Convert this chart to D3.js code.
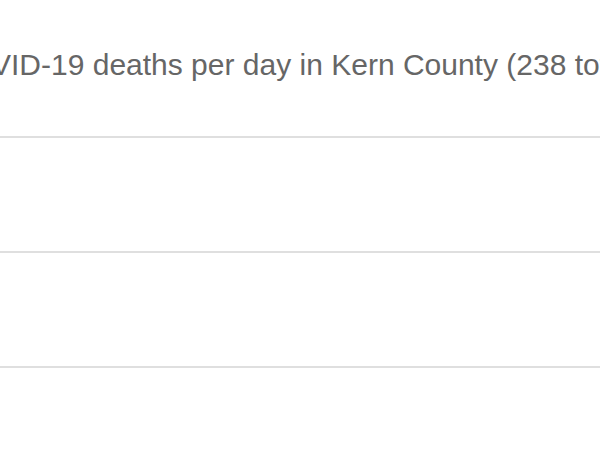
<!DOCTYPE html>
<html>
<head>
<meta charset="utf-8">
<script src="https://cdn.jsdelivr.net/npm/d3@7"></script>
<style>
  html, body { margin: 0; padding: 0; background: #fff; overflow: hidden; }
</style>
</head>
<body>
<script>
const title = "COVID-19 deaths per day in Kern County (238 total)";
const yTicks = [5, 10, 15];
const yDomain = [0, 15];

const width = 600;
const height = 450;

const svg = d3.select("body")
    .append("svg")
    .attr("width", width)
    .attr("height", height);

// the visible area is the top part of a taller plot
const y = d3.scaleLinear()
    .domain(yDomain)
    .range([481.5, 136.5]);

const grid = svg.append("g")
    .call(d3.axisLeft(y)
        .tickValues(yTicks)
        .tickSize(-width)
        .tickFormat(""));

grid.select(".domain").remove();
grid.selectAll(".tick line")
    .attr("stroke", "#d4d4d4")
    .attr("stroke-width", 1.5);

svg.append("text")
    .attr("x", -54)
    .attr("y", 74.5)
    .attr("text-anchor", "start")
    .attr("font-family", "Liberation Sans, Arial, sans-serif")
    .attr("font-size", "30px")
    .attr("fill", "#666")
    .text(title);
</script>
</body>
</html>
